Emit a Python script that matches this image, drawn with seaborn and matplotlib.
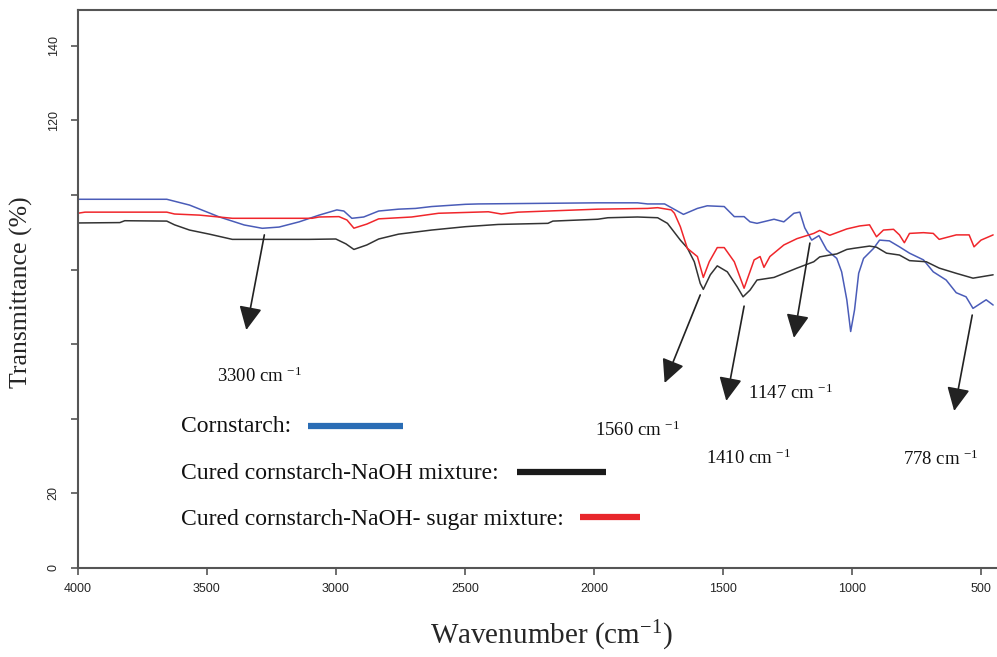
import matplotlib

matplotlib.use("Agg")
import matplotlib.pyplot as plt
import pandas as pd
import seaborn as sns

# FTIR spectra (wavenumber in cm-1, transmittance in %)
blue_wn = [4000, 3655, 3567, 3451, 3355, 3285, 3220, 3142, 3065, 2996, 2969, 2938, 2892, 2834, 2757,
           2691, 2629, 2498, 2448, 1985, 1831, 1792, 1726, 1653, 1599, 1561, 1495, 1456, 1418, 1395,
           1368, 1302, 1264, 1225, 1202, 1183, 1156, 1128, 1098, 1059, 1040, 1020, 1005, 990, 974,
           955, 916, 893, 855, 816, 777, 723, 685, 635, 596, 558, 531, 480, 453]
blue_t = [98.85, 98.85, 97.3, 94.1, 91.96, 91.07, 91.4, 92.8, 94.6, 96.0, 95.7, 93.75, 94.1, 95.7, 96.2,
          96.4, 96.9, 97.5, 97.6, 97.9, 97.9, 97.6, 97.6, 94.8, 96.4, 97.1, 96.9, 94.2, 94.2, 92.8,
          92.4, 93.5, 92.8, 95.1, 95.4, 91.2, 87.9, 89.1, 85.3, 83.0, 79.4, 71.9, 63.4, 69.2, 79.0,
          83.0, 85.7, 87.9, 87.7, 86.1, 84.4, 82.6, 79.4, 77.2, 73.8, 72.7, 69.6, 71.9, 70.5]

red_wn = [4000, 3972, 3655, 3625, 3528, 3401, 3092, 3065, 2988, 2957, 2930, 2880, 2834, 2757, 2706,
          2602, 2409, 2359, 2294, 1985, 1792, 1753, 1700, 1688, 1665, 1638, 1599, 1576, 1553, 1522,
          1495, 1456, 1418, 1379, 1356, 1341, 1318, 1264, 1213, 1148, 1125, 1086, 1020, 970, 932,
          905, 878, 839, 816, 797, 777, 723, 685, 662, 596, 546, 527, 500, 453]
red_t = [95.1, 95.4, 95.4, 94.9, 94.6, 93.75, 93.75, 94.1, 94.2, 93.3, 91.1, 92.2, 93.6, 93.9, 94.1,
         95.1, 95.5, 94.9, 95.4, 96.2, 96.4, 96.6, 96.0, 95.1, 91.5, 85.7, 83.5, 77.9, 82.1, 85.9,
         85.9, 82.1, 75.0, 82.6, 83.5, 80.6, 83.5, 86.6, 88.3, 89.7, 90.5, 89.2, 90.9, 91.7, 92.0,
         88.8, 90.6, 90.8, 89.3, 87.2, 89.7, 89.9, 89.7, 88.1, 89.3, 89.3, 86.1, 87.9, 89.3]

black_wn = [4000, 3837, 3818, 3655, 3625, 3567, 3490, 3401, 3104, 3000, 2961, 2930, 2880, 2834, 2757,
            2629, 2498, 2371, 2178, 2159, 1985, 1946, 1831, 1753, 1715, 1665, 1638, 1611, 1588, 1576,
            1549, 1522, 1483, 1445, 1422, 1395, 1368, 1302, 1213, 1148, 1125, 1086, 1059, 1020, 993,
            932, 905, 866, 816, 777, 712, 662, 596, 531, 453]
black_t = [92.5, 92.6, 93.1, 93.0, 92.0, 90.6, 89.5, 88.1, 88.1, 88.2, 86.9, 85.4, 86.6, 88.2, 89.5,
           90.6, 91.5, 92.1, 92.4, 93.0, 93.5, 93.9, 94.1, 93.9, 92.4, 87.9, 85.8, 82.1, 76.3, 74.7,
           78.6, 81.0, 79.4, 75.4, 72.7, 74.5, 77.2, 77.9, 80.4, 82.1, 83.4, 83.9, 84.2, 85.4, 85.7,
           86.3, 86.0, 84.4, 83.9, 82.4, 82.1, 80.4, 79.0, 77.7, 78.6]

y_ticks = [0, 20, 40, 60, 80, 100, 120, 140]
y_tick_labels = ["0", "20", "", "", "", "", "120", "140"]
x_ticks = [4000, 3500, 3000, 2500, 2000, 1500, 1000, 500]

# peak labels: text, label pos, arrow start, arrow tip
peak_labels = ["3300", "1560", "1410", "1147", "778"]
peak_label_xy = [(3459, 51.5), (1997, 37.0), (1564, 29.5), (1402, 46.9), (804, 29.2)]
arrow_from = [(3277, 89.3), (1588, 73.2), (1418, 70.2), (1163, 87.1), (534, 67.8)]
arrow_to = [(3347, 63.8), (1726, 49.6), (1487, 44.8), (1225, 61.7), (604, 42.1)]

# hand-drawn key inside the plot
key_names = ["Cornstarch:", "Cured cornstarch-NaOH mixture:", "Cured cornstarch-NaOH- sugar mixture:"]
key_y = [37.8, 25.2, 12.9]
key_bar_x = [(3108, 2741), (2297, 1954), (2054, 1823)]
key_bar_y = [38.1, 25.7, 13.7]
key_colors = ["#2a6db5", "#1a1a1a", "#e8262b"]

sns.set_style("white")
plt.rcParams["font.family"] = ["Liberation Serif", "DejaVu Serif"]
plt.rcParams["mathtext.fontset"] = "custom"
plt.rcParams["mathtext.rm"] = "Liberation Serif"
plt.rcParams["mathtext.it"] = "Liberation Serif:italic"

df = pd.concat([
    pd.DataFrame({"wn": blue_wn, "T": blue_t, "sample": "Cornstarch"}),
    pd.DataFrame({"wn": black_wn, "T": black_t, "sample": "NaOH"}),
    pd.DataFrame({"wn": red_wn, "T": red_t, "sample": "NaOH-sugar"}),
])
palette = {"Cornstarch": "#4a5cb8", "NaOH": "#333333", "NaOH-sugar": "#f0262b"}

fig = plt.figure(figsize=(9.97, 6.57), dpi=100)
ax = fig.add_axes([0.078, 0.1355, 0.922, 0.8493])
sns.lineplot(data=df, x="wn", y="T", hue="sample", palette=palette, estimator=None,
             sort=False, linewidth=1.1, legend=False, ax=ax)

ax.set_xlim(4000, 438)
ax.set_ylim(0, 149.6)
ax.set_xticks(x_ticks)
ax.set_xticklabels([str(v) for v in x_ticks], family="Liberation Sans", fontsize=9)
ax.set_yticks(y_ticks)
ax.set_yticklabels(y_tick_labels, family="Liberation Sans", fontsize=9, rotation=90, va="center")
ax.tick_params(axis="both", direction="out", length=5, width=1.2, color="#555555", bottom=True, left=True)
ax.tick_params(axis="x", pad=6)
ax.tick_params(axis="y", pad=8)
ax.set_xlabel("")
ax.set_ylabel("")
for side in ["left", "top", "bottom"]:
    ax.spines[side].set_color("#555555")
    ax.spines[side].set_linewidth(1.5)
ax.spines["right"].set_visible(False)

for lab, xy, a0, a1 in zip(peak_labels, peak_label_xy, arrow_from, arrow_to):
    ax.annotate("", xy=a1, xytext=a0,
                arrowprops=dict(arrowstyle="-|>,head_length=0.45,head_width=0.22",
                                color="#222222", lw=1.2, mutation_scale=32, shrinkA=0, shrinkB=0))
    ax.text(xy[0], xy[1], lab + " cm $^{-1}$", fontsize=13.5, ha="left", va="center", color="#111111")

for name, ty, (bx0, bx1), by, c in zip(key_names, key_y, key_bar_x, key_bar_y, key_colors):
    ax.text(3601, ty, name, fontsize=17, ha="left", va="center", color="#111111")
    ax.plot([bx0, bx1], [by, by], color=c, lw=4.5, solid_capstyle="butt")

fig.text(0.022, 0.555, "Transmittance (%)", rotation=90, fontsize=18.5, ha="center", va="center")
fig.text(0.553, 0.032, "Wavenumber (cm$^{-1}$)", fontsize=21, ha="center", va="center")

fig.savefig("out.png", dpi=100)
